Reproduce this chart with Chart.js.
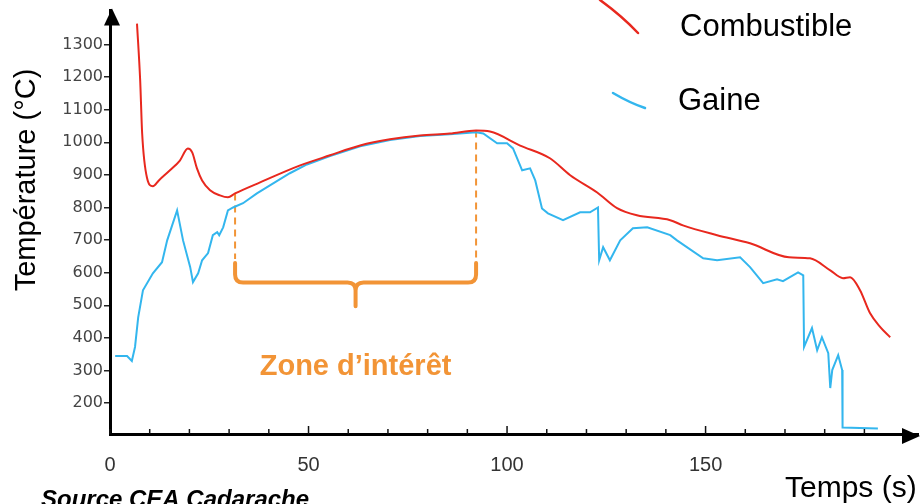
<!DOCTYPE html>
<html>
<head>
<meta charset="utf-8">
<script src="https://cdn.jsdelivr.net/npm/chart.js@4.4.1/dist/chart.umd.min.js"></script>
<style>
html,body{margin:0;padding:0;background:#fff;}
#wrap{position:relative;width:924px;height:504px;}
</style>
</head>
<body>
<div id="wrap"><canvas id="c" width="924" height="504"></canvas></div>
<script>
// ---- Data ----
const timeCombustible = [6.8,7.6,8.1,9.3,10.8,12.3,15.1,17.6,19.6,20.7,21.9,23.2,25.2,27.7,29.7,31.5,37.8,47.9,55.4,63.0,70.5,78.1,85.6,92.2,95.7,103.3,110.8,115.9,122.7,127.7,132.7,141.1,144.3,152.9,161.2,171.0,176.3,181.4,184.6,186.4,188.9,191.4,194.0,196.5];
const tempCombustible = [1364,1190,1027,892,865,883,914,944,981,969,920,883,853,837,831,843,877,929,960,990,1009,1021,1027,1036,1033,990,951,899,846,798,776,761,745,715,690,647,644,607,583,586,546,476,433,402];

const timeGaine = [1.3,4.3,5.5,6.3,7.1,8.3,10.8,13.1,14.4,16.9,18.4,20.2,20.9,22.2,23.2,24.7,25.9,27.0,27.5,28.5,29.7,31.0,33.5,37.0,45.3,49.6,55.4,63.0,70.5,78.1,85.6,92.2,94.0,97.5,100.0,101.5,103.8,105.8,107.1,108.8,110.3,114.1,118.4,120.9,122.9,123.2,124.2,125.9,128.5,131.7,135.3,141.1,142.8,149.4,152.9,158.7,161.2,164.5,168.0,169.5,173.3,174.6,174.8,176.8,178.1,179.3,180.9,181.4,181.9,183.4,184.4,184.5,193.4];
const tempGaine = [344,344,329,372,463,546,598,632,699,791,699,617,571,598,638,660,715,724,715,739,791,800,813,843,905,932,958,988,1007,1019,1025,1031,1027,997,997,981,914,920,883,797,782,761,785,785,800,638,678,638,699,736,739,715,699,644,638,647,617,568,580,574,601,592,372,430,362,402,353,246,301,347,301,125,122];

const xTickLabels = [0, 50, 100, 150];
const yTickLabels = [200, 300, 400, 500, 600, 700, 800, 900, 1000, 1100, 1200, 1300];
const seriesNames = ['Combustible', 'Gaine'];

// zone of interest (s) and its bracket levels (°C)
const zoneStart = 31.5, zoneEnd = 92.2;
const zoneStartTemp = 843, zoneEndTemp = 1036;
const bracketTop = 630, bracketLine = 570, bracketTip = 497;

const RED = '#e8281e';
const BLUE = '#33b6ee';
const ORANGE = '#f29436';

const deco = {
  id: 'deco',
  beforeDatasetsDraw(chart) {
    const ctx = chart.ctx, xs = chart.scales.x, ys = chart.scales.y;
    ctx.save();
    ctx.strokeStyle = ORANGE; ctx.lineWidth = 2; ctx.setLineDash([7, 5]);
    [[zoneStart, zoneStartTemp], [zoneEnd, zoneEndTemp]].forEach(([t, v]) => {
      const px = xs.getPixelForValue(t);
      ctx.beginPath(); ctx.moveTo(px, ys.getPixelForValue(v)); ctx.lineTo(px, ys.getPixelForValue(bracketTop) - 4); ctx.stroke();
    });
    ctx.setLineDash([]);
    const L = xs.getPixelForValue(zoneStart), R = xs.getPixelForValue(zoneEnd), M = (L + R) / 2;
    const yT = ys.getPixelForValue(bracketTop), yB = ys.getPixelForValue(bracketLine), yTip = ys.getPixelForValue(bracketTip);
    const r = 8;
    ctx.lineWidth = 4; ctx.lineCap = 'round'; ctx.lineJoin = 'round';
    ctx.beginPath();
    ctx.moveTo(L, yT); ctx.lineTo(L, yB - r); ctx.quadraticCurveTo(L, yB, L + r, yB);
    ctx.lineTo(M - r, yB); ctx.quadraticCurveTo(M, yB, M, yB + r); ctx.lineTo(M, yTip);
    ctx.moveTo(M, yB + r); ctx.quadraticCurveTo(M, yB, M + r, yB);
    ctx.lineTo(R - r, yB); ctx.quadraticCurveTo(R, yB, R, yB - r); ctx.lineTo(R, yT);
    ctx.stroke();
    ctx.fillStyle = ORANGE; ctx.font = 'bold 29px "Liberation Sans", Arial, sans-serif';
    ctx.textAlign = 'center'; ctx.textBaseline = 'alphabetic';
    ctx.fillText('Zone d’intérêt', M, 375);
    ctx.restore();
  },
  afterDraw(chart) {
    const ctx = chart.ctx, xs = chart.scales.x, a = chart.chartArea;
    ctx.save();
    ctx.strokeStyle = '#111'; ctx.lineWidth = 1.5;
    for (let t = 0; t <= 190; t += 10) {
      const px = xs.getPixelForValue(t);
      const h = (t % 50 === 0 && t > 0) ? 8 : 5;
      ctx.beginPath(); ctx.moveTo(px, a.bottom); ctx.lineTo(px, a.bottom - h); ctx.stroke();
    }
    ctx.fillStyle = '#000';
    ctx.beginPath(); ctx.moveTo(a.left + 2, a.top - 2); ctx.lineTo(a.left - 6, a.top + 15); ctx.lineTo(a.left + 10, a.top + 15); ctx.closePath(); ctx.fill();
    ctx.beginPath(); ctx.moveTo(a.right + 2, a.bottom + 2); ctx.lineTo(a.right - 16, a.bottom - 6); ctx.lineTo(a.right - 16, a.bottom + 10); ctx.closePath(); ctx.fill();
    ctx.lineCap = 'round'; ctx.lineWidth = 2.5;
    ctx.strokeStyle = RED;
    ctx.beginPath(); ctx.moveTo(600, 0); ctx.quadraticCurveTo(622, 16, 638, 33); ctx.stroke();
    ctx.strokeStyle = BLUE;
    ctx.beginPath(); ctx.moveTo(613, 93); ctx.quadraticCurveTo(630, 103, 645, 108); ctx.stroke();
    ctx.fillStyle = '#000'; ctx.textAlign = 'left'; ctx.textBaseline = 'alphabetic';
    ctx.font = '31px "Liberation Sans", Arial, sans-serif';
    ctx.fillText(seriesNames[0], 680, 36);
    ctx.fillText(seriesNames[1], 678, 110);
    ctx.font = '30px "Liberation Sans", Arial, sans-serif';
    ctx.fillText('Temps (s)', 785, 497);
    ctx.save();
    ctx.translate(35, 180); ctx.rotate(-Math.PI / 2);
    ctx.textAlign = 'center'; ctx.font = '29px "Liberation Sans", Arial, sans-serif';
    ctx.fillText('Température (°C)', 0, 0);
    ctx.restore();
    ctx.font = 'italic bold 24px "Liberation Sans", Arial, sans-serif';
    ctx.fillText('Source CEA Cadarache', 41, 507);
    ctx.restore();
  }
};

new Chart(document.getElementById('c'), {
  type: 'line',
  data: {
    datasets: [
      {
        label: seriesNames[0],
        data: timeCombustible.map((t, i) => ({ x: t, y: tempCombustible[i] })),
        borderColor: RED, borderWidth: 2, pointRadius: 0, cubicInterpolationMode: 'monotone', fill: false
      },
      {
        label: seriesNames[1],
        data: timeGaine.map((t, i) => ({ x: t, y: tempGaine[i] })),
        borderColor: BLUE, borderWidth: 2, pointRadius: 0, tension: 0, fill: false
      }
    ]
  },
  options: {
    responsive: false,
    animation: false,
    layout: { padding: { top: 10, right: 6, left: 0, bottom: 0 } },
    plugins: { legend: { display: false }, tooltip: { enabled: false } },
    scales: {
      x: {
        type: 'linear', min: 0, max: 203.5,
        afterBuildTicks: s => { s.ticks = xTickLabels.map(v => ({ value: v })); },
        afterFit: s => { s.height = 70; },
        grid: { drawOnChartArea: false, drawTicks: false },
        border: { display: true, color: '#000', width: 3 },
        ticks: { padding: 19, color: '#333', callback: v => String(v), font: { family: '"Liberation Sans", Arial, sans-serif', size: 20 }, maxRotation: 0 }
      },
      y: {
        type: 'linear', min: 105, max: 1404,
        afterBuildTicks: s => { s.ticks = yTickLabels.map(v => ({ value: v })); },
        afterFit: s => { s.width = 110; },
        grid: { drawOnChartArea: false, drawTicks: true, tickLength: 6, color: '#222', lineWidth: 1.5 },
        border: { display: true, color: '#000', width: 3 },
        ticks: { padding: 1, color: '#444', callback: v => String(v), font: { family: '"DejaVu Sans", sans-serif', size: 16 } }
      }
    }
  },
  plugins: [deco]
});
</script>
</body>
</html>
